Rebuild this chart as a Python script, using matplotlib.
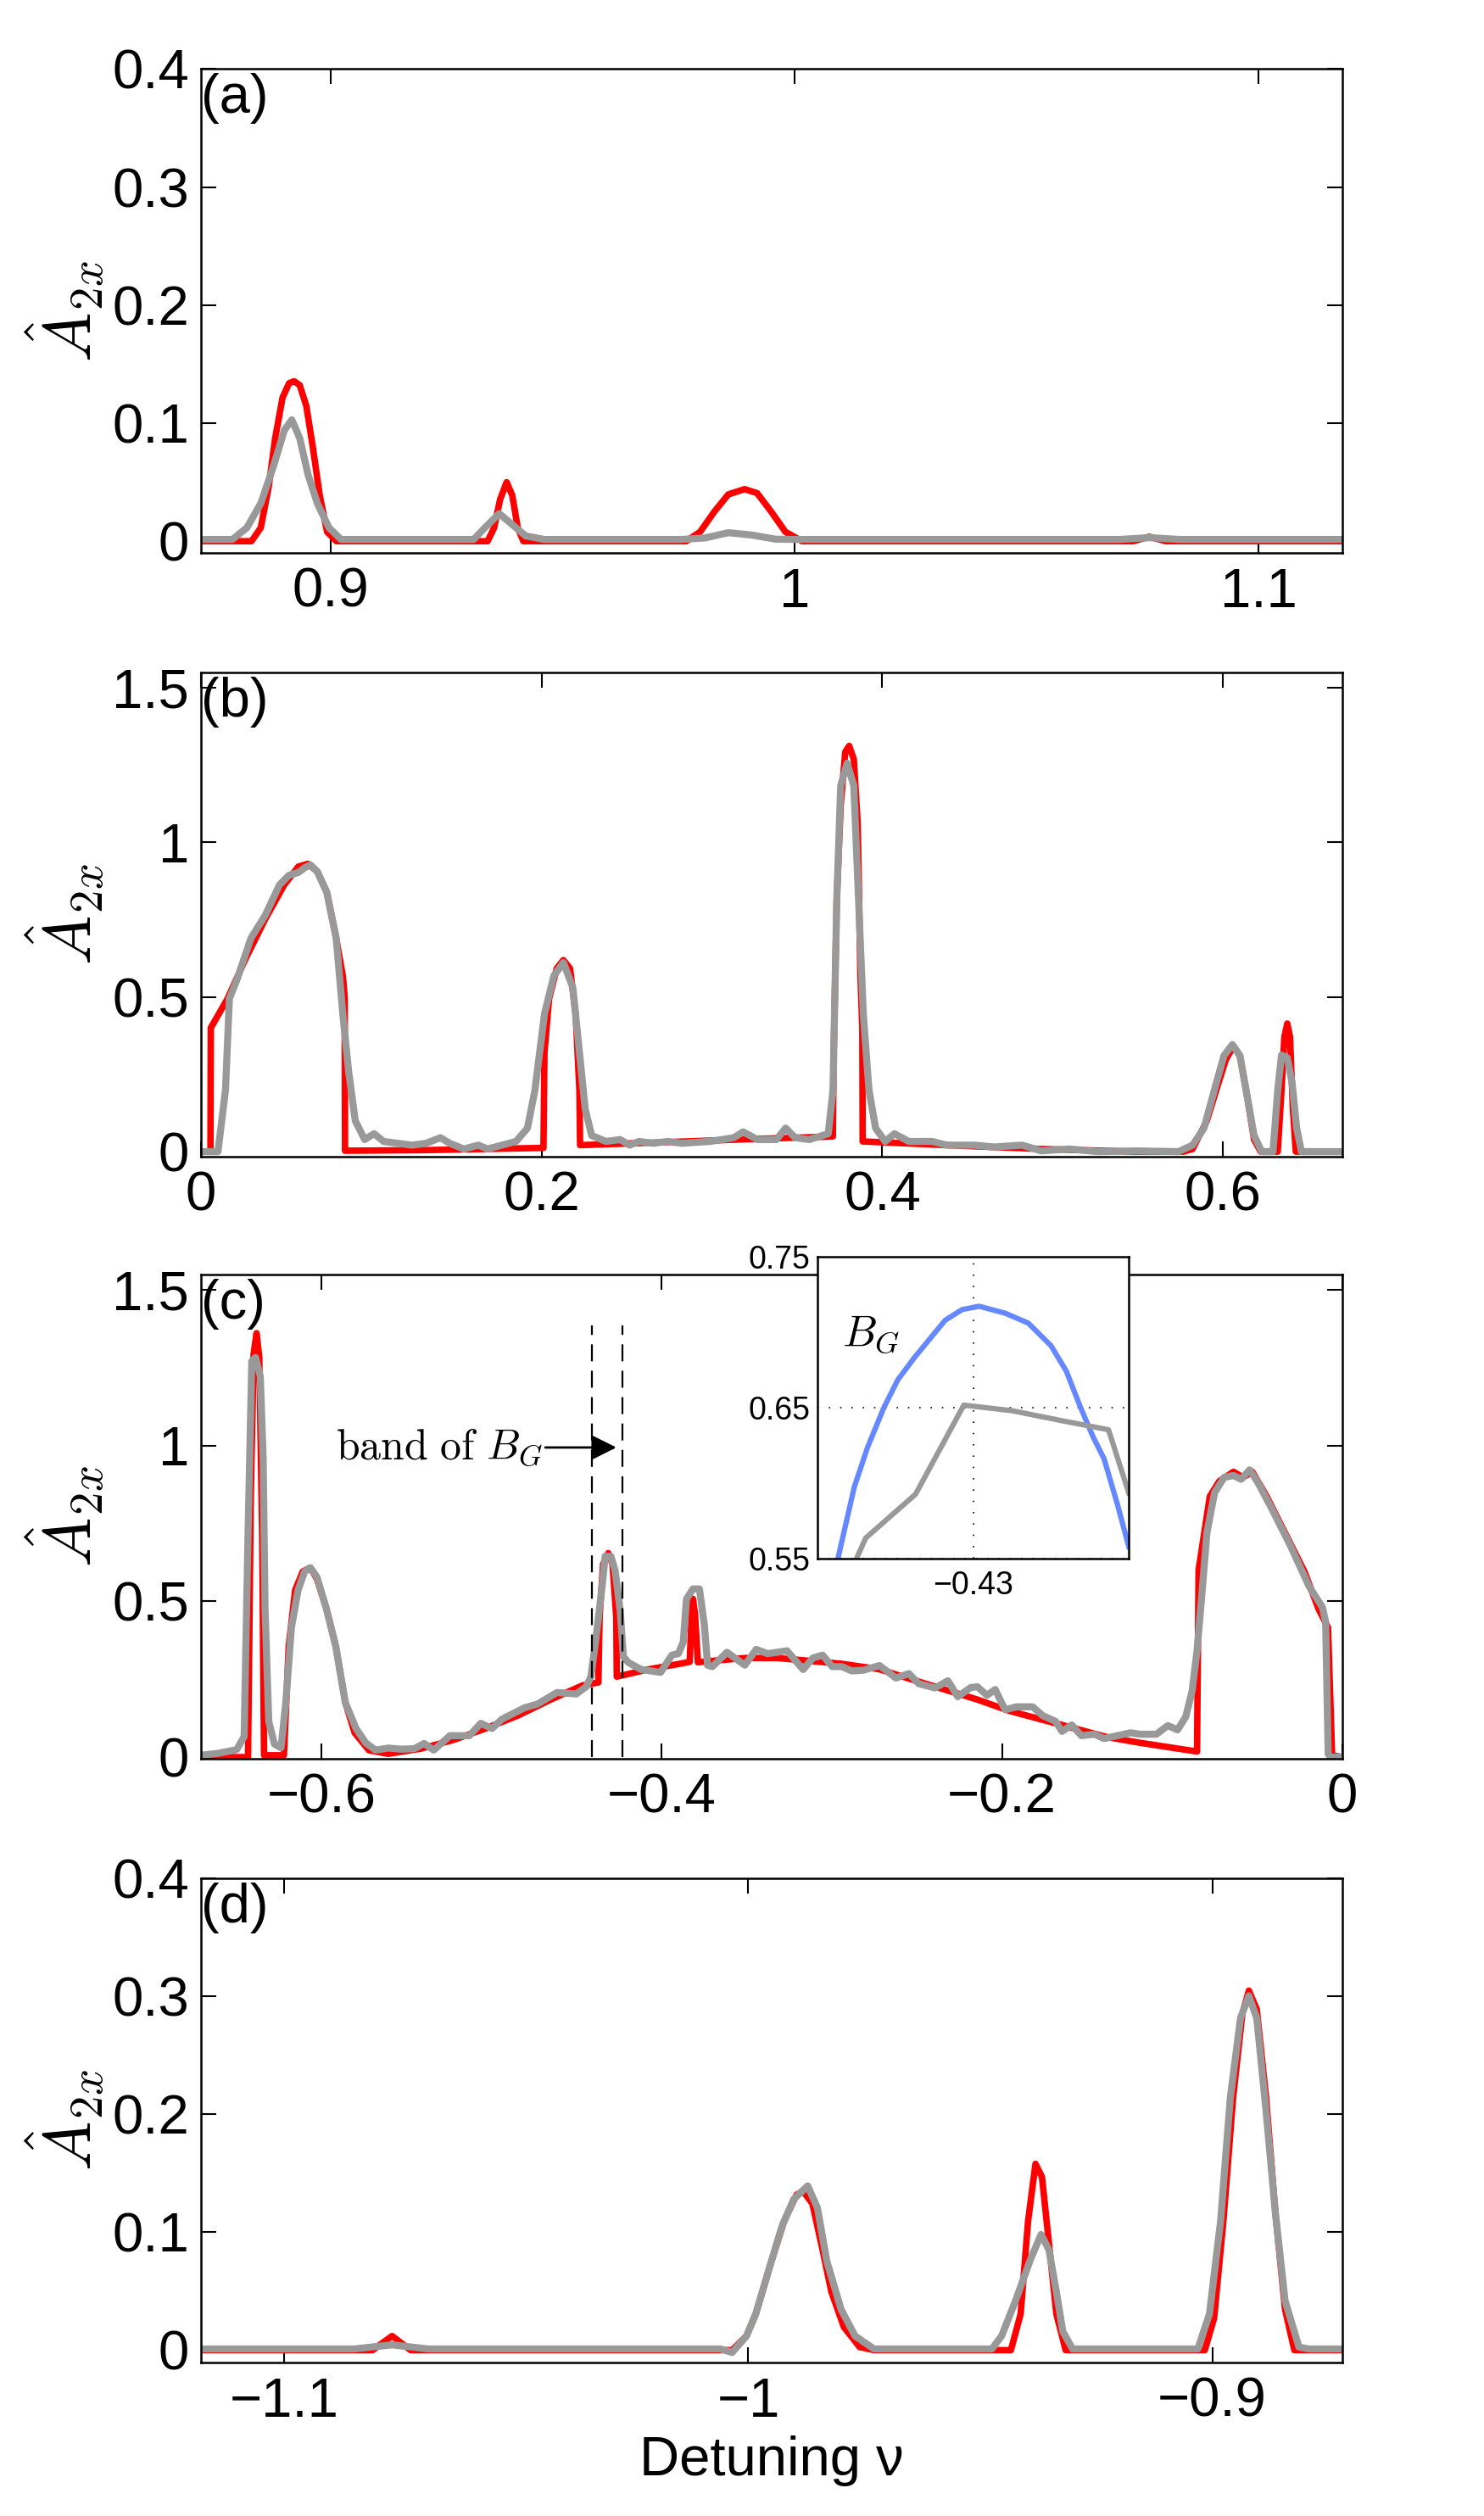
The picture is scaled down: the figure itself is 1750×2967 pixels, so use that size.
import numpy as np
import matplotlib
matplotlib.use("Agg")
import matplotlib.pyplot as plt

plt.rcParams['font.family'] = ['Liberation Sans', 'DejaVu Sans']
plt.rcParams['mathtext.fontset'] = 'cm'

RED = '#ff0000'
GRAY = '#999999'
BLUE = '#6688ff'

# ---- panel (a): positive detuning, upper resonances ----
a_red = [(0.872, 0), (0.8829, 0), (0.8849, 0.0114), (0.8866, 0.0459), (0.888, 0.0872),
         (0.8896, 0.1217), (0.891, 0.1338), (0.8921, 0.1355), (0.8933, 0.1321), (0.8947, 0.1148),
         (0.8961, 0.0803), (0.8976, 0.039), (0.8992, 0.0079), (0.9012, 0), (0.9338, 0),
         (0.9352, 0.0114), (0.9365, 0.0355), (0.9379, 0.05), (0.9391, 0.039), (0.9403, 0.0114),
         (0.9415, 0), (0.9766, 0), (0.9796, 0.0079), (0.9827, 0.0252), (0.9857, 0.0397),
         (0.9892, 0.0441), (0.9919, 0.0407), (0.9949, 0.0252), (0.998, 0.0079), (1.0016, 0),
         (1.073, 0), (1.0764, 0.0038), (1.080, 0), (1.118, 0)]
a_gray = [(0.872, 0.0015), (0.8788, 0.0015), (0.8819, 0.0114), (0.8849, 0.032), (0.8876, 0.0631),
          (0.89, 0.0941), (0.8916, 0.1028), (0.8933, 0.0872), (0.8951, 0.0562), (0.8971, 0.032),
          (0.8996, 0.0114), (0.9022, 0.0015), (0.9308, 0.0015), (0.9332, 0.0114), (0.9363, 0.0234),
          (0.9389, 0.0148), (0.942, 0.0045), (0.946, 0.0015), (0.9756, 0.0015), (0.9807, 0.0028),
          (0.9857, 0.0072), (0.9908, 0.0052), (0.9959, 0.0017), (1.001, 0.0015), (1.070, 0.0015),
          (1.0764, 0.003), (1.083, 0.0015), (1.118, 0.0015)]

# ---- panel (b) ----
b_red = [(0, 0), (0.0056, 0), (0.0058, 0.40), (0.0156, 0.494), (0.0267, 0.629), (0.0378, 0.752),
         (0.0489, 0.862), (0.0572, 0.921), (0.0628, 0.93), (0.0683, 0.905), (0.0739, 0.838),
         (0.0794, 0.69), (0.0833, 0.568), (0.0844, 0.50), (0.0846, 0.003), (0.132, 0.005),
         (0.2, 0.012), (0.2011, 0.012), (0.2017, 0.322), (0.2044, 0.494), (0.2089, 0.592),
         (0.2128, 0.619), (0.2167, 0.592), (0.22, 0.445), (0.2222, 0.199), (0.2226, 0.021),
         (0.27, 0.03), (0.32, 0.04), (0.371, 0.049), (0.3715, 0.322), (0.3733, 0.813),
         (0.3756, 1.12), (0.3783, 1.292), (0.3806, 1.311), (0.3833, 1.268), (0.3856, 1.06),
         (0.3872, 0.568), (0.3883, 0.40), (0.3885, 0.033), (0.4378, 0.021), (0.4933, 0.0086),
         (0.5489, 0), (0.5767, 0), (0.5822, 0.0086), (0.5906, 0.1), (0.5961, 0.199),
         (0.6017, 0.297), (0.6061, 0.34), (0.61, 0.31), (0.6144, 0.174), (0.6183, 0.039),
         (0.6222, 0), (0.6322, 0), (0.6344, 0.199), (0.6361, 0.371), (0.6378, 0.414),
         (0.6394, 0.371), (0.6411, 0.138), (0.6428, 0), (0.67, 0)]
b_gray = [(0, 0), (0.01, 0), (0.0144, 0.199), (0.0167, 0.494), (0.0211, 0.555), (0.0294, 0.69),
          (0.0378, 0.764), (0.0461, 0.862), (0.0517, 0.893), (0.0572, 0.902), (0.0611, 0.918),
          (0.0644, 0.926), (0.0683, 0.905), (0.0739, 0.838), (0.0794, 0.69), (0.0833, 0.445),
          (0.0867, 0.26), (0.0906, 0.1), (0.0961, 0.039), (0.1017, 0.058), (0.1072, 0.033),
          (0.1156, 0.027), (0.1239, 0.021), (0.1322, 0.027), (0.1406, 0.045), (0.1461, 0.027),
          (0.1544, 0.0086), (0.1628, 0.021), (0.1683, 0.0086), (0.1767, 0.021), (0.185, 0.033),
          (0.1917, 0.076), (0.1961, 0.199), (0.2017, 0.445), (0.2072, 0.568), (0.2128, 0.611),
          (0.2183, 0.531), (0.2222, 0.322), (0.2256, 0.138), (0.2294, 0.052), (0.2378, 0.033),
          (0.2461, 0.039), (0.2517, 0.021), (0.2572, 0.033), (0.2656, 0.027), (0.2739, 0.033),
          (0.2822, 0.027), (0.2989, 0.033), (0.3128, 0.045), (0.3183, 0.064), (0.3267, 0.039),
          (0.3378, 0.039), (0.3433, 0.076), (0.3489, 0.045), (0.3572, 0.039), (0.3683, 0.058),
          (0.3711, 0.199), (0.3733, 0.813), (0.3756, 1.182), (0.3794, 1.255), (0.3833, 1.182),
          (0.3861, 0.813), (0.3889, 0.445), (0.3922, 0.199), (0.3961, 0.076), (0.4017, 0.033),
          (0.4072, 0.058), (0.4156, 0.033), (0.4294, 0.033), (0.4378, 0.021), (0.4544, 0.021),
          (0.4656, 0.015), (0.4822, 0.021), (0.4933, 0.0025), (0.51, 0.0086), (0.5267, 0),
          (0.5489, 0.0025), (0.5739, 0), (0.5822, 0.021), (0.5889, 0.076), (0.595, 0.199),
          (0.6006, 0.31), (0.6056, 0.346), (0.61, 0.31), (0.6144, 0.174), (0.6183, 0.052),
          (0.6228, 0), (0.6294, 0), (0.6322, 0.199), (0.6344, 0.312), (0.6378, 0.303),
          (0.6406, 0.224), (0.6433, 0.076), (0.6461, 0), (0.67, 0)]

# ---- panel (c) ----
c_red = [(-0.6711, 0), (-0.6433, 0), (-0.6417, 0.837), (-0.64, 1.295), (-0.6383, 1.361),
         (-0.6367, 1.283), (-0.635, 0.717), (-0.6339, 0.006), (-0.6222, 0.006), (-0.6194, 0.355),
         (-0.6156, 0.536), (-0.6111, 0.596), (-0.6067, 0.608), (-0.6028, 0.572), (-0.5972, 0.476),
         (-0.5917, 0.355), (-0.5861, 0.175), (-0.5806, 0.078), (-0.5722, 0.022), (-0.5608, 0.0106),
         (-0.5417, 0.0272), (-0.5227, 0.0549), (-0.5036, 0.0919), (-0.4846, 0.1335),
         (-0.4655, 0.1843), (-0.4465, 0.2305), (-0.4373, 0.2397), (-0.4366, 0.45),
         (-0.4345, 0.62), (-0.4315, 0.655), (-0.429, 0.62), (-0.4268, 0.45), (-0.4265, 0.2582),
         (-0.4084, 0.2813), (-0.3893, 0.2998), (-0.3836, 0.306), (-0.3825, 0.46),
         (-0.3817, 0.508), (-0.3805, 0.46), (-0.3788, 0.3044), (-0.3703, 0.309),
         (-0.3512, 0.3182), (-0.3322, 0.3182), (-0.3131, 0.309), (-0.2941, 0.2995),
         (-0.272, 0.282), (-0.2529, 0.249), (-0.2337, 0.217), (-0.2146, 0.185), (-0.1954, 0.148),
         (-0.1763, 0.12), (-0.1571, 0.092), (-0.138, 0.064), (-0.1188, 0.046), (-0.0997, 0.03),
         (-0.0853, 0.018), (-0.0844, 0.6), (-0.0778, 0.837), (-0.0722, 0.886), (-0.0639, 0.916),
         (-0.0583, 0.898), (-0.0528, 0.916), (-0.0444, 0.837), (-0.0333, 0.717), (-0.0222, 0.596),
         (-0.0139, 0.476), (-0.0083, 0.416), (-0.0059, 0.006), (0, 0)]
c_gray = [(-0.6711, 0.006), (-0.6611, 0.012), (-0.65, 0.024), (-0.6456, 0.066), (-0.6433, 0.717),
          (-0.6411, 1.271), (-0.6389, 1.283), (-0.6361, 1.223), (-0.6344, 0.958), (-0.6333, 0.476),
          (-0.6311, 0.114), (-0.6278, 0.042), (-0.6239, 0.03), (-0.6211, 0.175), (-0.6178, 0.416),
          (-0.6139, 0.536), (-0.61, 0.596), (-0.6067, 0.608), (-0.6028, 0.578), (-0.5972, 0.476),
          (-0.5917, 0.355), (-0.5861, 0.175), (-0.5798, 0.0919), (-0.5741, 0.0457),
          (-0.5684, 0.0226), (-0.5608, 0.0291), (-0.5531, 0.0254), (-0.5455, 0.0272),
          (-0.5398, 0.0438), (-0.5341, 0.0226), (-0.5246, 0.0688), (-0.5131, 0.0688),
          (-0.5065, 0.1085), (-0.4998, 0.0919), (-0.4941, 0.1215), (-0.4865, 0.1427),
          (-0.4807, 0.1584), (-0.4731, 0.1704), (-0.4674, 0.1889), (-0.4617, 0.2074),
          (-0.4503, 0.2028), (-0.4445, 0.2259), (-0.4417, 0.2582), (-0.4388, 0.3783),
          (-0.435, 0.5539), (-0.4333, 0.645), (-0.43, 0.645), (-0.4275, 0.60), (-0.4245, 0.4707),
          (-0.4226, 0.3229), (-0.4198, 0.3044), (-0.4122, 0.2813), (-0.4007, 0.272),
          (-0.3969, 0.3044), (-0.3941, 0.3275), (-0.3903, 0.3321), (-0.3874, 0.3691),
          (-0.3855, 0.5077), (-0.3817, 0.54), (-0.3779, 0.54), (-0.375, 0.4245),
          (-0.3731, 0.2952), (-0.3703, 0.2905), (-0.3617, 0.3367), (-0.3512, 0.2952),
          (-0.3445, 0.346), (-0.3379, 0.3321), (-0.3264, 0.3413), (-0.3169, 0.2813),
          (-0.3112, 0.3182), (-0.3055, 0.3275), (-0.2998, 0.2905), (-0.2941, 0.2905),
          (-0.2883, 0.2767), (-0.2815, 0.279), (-0.272, 0.294), (-0.2624, 0.254),
          (-0.2547, 0.268), (-0.249, 0.236), (-0.2394, 0.222), (-0.2318, 0.245), (-0.226, 0.194),
          (-0.2184, 0.2235), (-0.2145, 0.226), (-0.2088, 0.1985), (-0.204, 0.217),
          (-0.1982, 0.1522), (-0.1915, 0.1615), (-0.182, 0.1615), (-0.1762, 0.1337),
          (-0.1686, 0.1152), (-0.1647, 0.0827), (-0.159, 0.1031), (-0.1533, 0.0689),
          (-0.1456, 0.0735), (-0.1399, 0.0596), (-0.1322, 0.0689), (-0.1245, 0.0781),
          (-0.1188, 0.0735), (-0.1092, 0.0735), (-0.1025, 0.1013), (-0.0968, 0.0874),
          (-0.092, 0.129), (-0.0882, 0.2124), (-0.0853, 0.342), (-0.0824, 0.527),
          (-0.0795, 0.72), (-0.075, 0.849), (-0.0694, 0.898), (-0.0639, 0.904), (-0.0594, 0.892),
          (-0.0544, 0.922), (-0.05, 0.886), (-0.0417, 0.801), (-0.0306, 0.681), (-0.0194, 0.548),
          (-0.0116, 0.481), (-0.0097, 0.435), (-0.0082, 0.01), (-0.0068, 0.0), (0, 0.0)]
band_edges = [-0.441, -0.423]
band_top = 1.386

# inset: zoom on the B_G band
inset_blue = [(-0.43869, 0.55), (-0.43764, 0.5974), (-0.43679, 0.6236), (-0.43574, 0.65),
              (-0.43484, 0.6685), (-0.43375, 0.6835), (-0.4318, 0.7079), (-0.43071, 0.715),
              (-0.42961, 0.7172), (-0.42791, 0.7125), (-0.42645, 0.706), (-0.42499, 0.691),
              (-0.42401, 0.6742), (-0.42309, 0.65), (-0.42231, 0.6311), (-0.42158, 0.616),
              (-0.42073, 0.5861), (-0.42, 0.558)]
inset_gray = [(-0.438, 0.54), (-0.4375, 0.55), (-0.4369, 0.5637), (-0.4337, 0.5927),
              (-0.4306, 0.6517), (-0.4275, 0.648), (-0.4243, 0.6414), (-0.4213, 0.6354),
              (-0.42, 0.5936)]

# ---- panel (d): negative detuning ----
d_red = [(-1.118, 0), (-1.081, 0), (-1.0768, 0.012), (-1.0728, 0), (-1.0035, 0), (-1.0004, 0.012),
         (-0.9984, 0.0307), (-0.9953, 0.0719), (-0.9923, 0.1094), (-0.9896, 0.1318),
         (-0.9882, 0.1348), (-0.9862, 0.1243), (-0.9841, 0.0869), (-0.9821, 0.0494),
         (-0.9794, 0.0195), (-0.976, 0.0026), (-0.9729, 0), (-0.9434, 0), (-0.9413, 0.0307),
         (-0.9397, 0.1094), (-0.9381, 0.158), (-0.9367, 0.1468), (-0.9352, 0.0906),
         (-0.9336, 0.0307), (-0.9316, 0), (-0.9016, 0), (-0.8996, 0.027), (-0.8976, 0.1094),
         (-0.8955, 0.2142), (-0.8935, 0.2854), (-0.8921, 0.3049), (-0.8904, 0.2891),
         (-0.8884, 0.2142), (-0.8864, 0.1169), (-0.8843, 0.0345), (-0.8823, 0), (-0.872, 0)]
d_gray = [(-1.118, 0.001), (-1.085, 0.001), (-1.0768, 0.0045), (-1.069, 0.001), (-1.006, 0.001),
          (-1.0035, -0.002), (-1.0004, 0.012), (-0.9984, 0.0307), (-0.9953, 0.0719),
          (-0.9927, 0.1056), (-0.9902, 0.1281), (-0.9872, 0.1393), (-0.9851, 0.1206),
          (-0.9831, 0.0757), (-0.98, 0.0345), (-0.977, 0.012), (-0.9729, 0.001), (-0.9475, 0.001),
          (-0.9454, 0.012), (-0.9424, 0.0419), (-0.9393, 0.0757), (-0.9369, 0.0981),
          (-0.9352, 0.085), (-0.9336, 0.0494), (-0.9322, 0.0157), (-0.9301, 0.001),
          (-0.9031, 0.001), (-0.9006, 0.0307), (-0.8982, 0.1094), (-0.8961, 0.2142),
          (-0.8939, 0.2816), (-0.8921, 0.3004), (-0.8904, 0.2816), (-0.8884, 0.203),
          (-0.8864, 0.1169), (-0.8843, 0.0419), (-0.8813, 0.0026), (-0.8792, 0.001), (-0.872, 0.001)]

panels = [
    dict(red=a_red, gray=a_gray, xlim=(0.872, 1.118), ylim=(-0.01, 0.4),
         xticks=[0.9, 1.0, 1.1], xlabels=['0.9', '1', '1.1'],
         yticks=[0, 0.1, 0.2, 0.3, 0.4], ylabels=['0', '0.1', '0.2', '0.3', '0.4'], tag='(a)'),
    dict(red=b_red, gray=b_gray, xlim=(0, 0.67), ylim=(-0.016, 1.548),
         xticks=[0, 0.2, 0.4, 0.6], xlabels=['0', '0.2', '0.4', '0.6'],
         yticks=[0, 0.5, 1, 1.5], ylabels=['0', '0.5', '1', '1.5'], tag='(b)'),
    dict(red=c_red, gray=c_gray, xlim=(-0.671, 0), ylim=(-0.005, 1.549),
         xticks=[-0.6, -0.4, -0.2, 0], xlabels=['\u22120.6', '\u22120.4', '\u22120.2', '0'],
         yticks=[0, 0.5, 1, 1.5], ylabels=['0', '0.5', '1', '1.5'], tag='(c)'),
    dict(red=d_red, gray=d_gray, xlim=(-1.118, -0.872), ylim=(-0.0105, 0.4),
         xticks=[-1.1, -1.0, -0.9], xlabels=['\u22121.1', '\u22121', '\u22120.9'],
         yticks=[0, 0.1, 0.2, 0.3, 0.4], ylabels=['0', '0.1', '0.2', '0.3', '0.4'], tag='(d)'),
]
bottoms = [0.7802, 0.5403, 0.3010, 0.0610]

fig = plt.figure(figsize=(17.5, 29.67), dpi=100)
axes = []
for p, b in zip(panels, bottoms):
    ax = fig.add_axes([0.1354, b, 0.769, 0.1924])
    red = np.array(p['red'])
    gray = np.array(p['gray'])
    ax.plot(red[:, 0], red[:, 1], color=RED, lw=5.5, solid_joinstyle='round')
    ax.plot(gray[:, 0], gray[:, 1], color=GRAY, lw=6, solid_joinstyle='round')
    ax.set_xlim(*p['xlim'])
    ax.set_ylim(*p['ylim'])
    ax.set_xticks(p['xticks'], p['xlabels'])
    ax.set_yticks(p['yticks'], p['ylabels'])
    ax.tick_params(direction='in', top=True, right=True, length=13, width=1.5,
                   labelsize=47)
    ax.tick_params(axis='x', pad=12)
    ax.tick_params(axis='y', pad=10)
    for s in ax.spines.values():
        s.set_linewidth(1.8)
    ax.text(0.0, 0.909, p['tag'], transform=ax.transAxes, fontsize=47,
            ha='left', va='baseline')
    ax.set_ylabel(r'$\hat{A}_{2x}$', fontsize=56)
    ax.yaxis.set_label_coords(-0.083, 0.5)
    axes.append(ax)

# band marker and annotation in panel (c)
axc = axes[2]
for xe in band_edges:
    axc.plot([xe, xe], [0, band_top], color='k', lw=1.6, ls=(0, (9, 5)))
axc.annotate(r'$\mathrm{band\ of\ }B_G$', xy=(-0.4267, 0.994), xytext=(-0.5917, 0.994),
             fontsize=36, ha='left', va='center',
             arrowprops=dict(arrowstyle='-|>', color='k', lw=2, mutation_scale=45,
                             shrinkA=0, shrinkB=0))

axes[3].set_xlabel('Detuning \u03bd', fontsize=47)
axes[3].xaxis.set_label_coords(0.5, -0.15)

# inset
axi = fig.add_axes([0.5509, 0.3805, 0.2097, 0.12])
blue = np.array(inset_blue)
ig = np.array(inset_gray)
axi.plot(blue[:, 0], blue[:, 1], color=BLUE, lw=4.5, solid_joinstyle='round')
axi.plot(ig[:, 0], ig[:, 1], color=GRAY, lw=4.5)
axi.set_xlim(-0.44, -0.42)
axi.set_ylim(0.55, 0.75)
axi.set_xticks([-0.43], ['\u22120.43'])
axi.set_yticks([0.55, 0.65, 0.75], ['0.55', '0.65', '0.75'])
axi.tick_params(direction='in', length=0, labelsize=27)
axi.tick_params(axis='x', pad=10)
axi.tick_params(axis='y', pad=6)
axi.grid(True, color='k', lw=1.2, ls=(0, (1, 7)))
for s in axi.spines.values():
    s.set_linewidth(1.8)
axi.text(-0.4384, 0.691, r'$B_G$', fontsize=37, ha='left', va='baseline')

fig.savefig('out.png', dpi=100)
